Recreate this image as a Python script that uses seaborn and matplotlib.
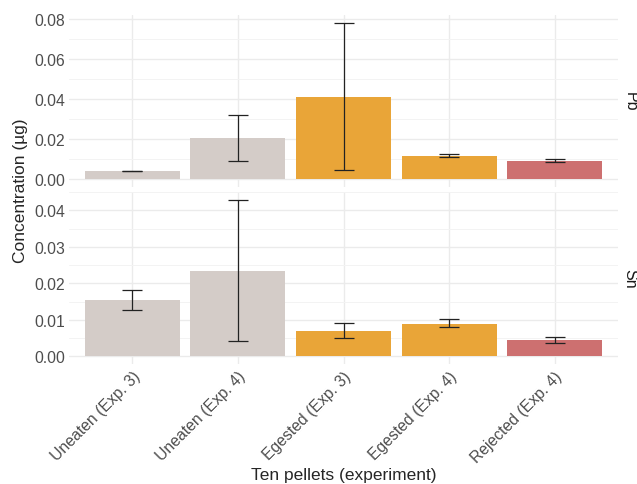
import numpy as np
import pandas as pd
import matplotlib
matplotlib.use("Agg")
import matplotlib.pyplot as plt
from matplotlib.ticker import MultipleLocator
import seaborn as sns

categories = ["Uneaten (Exp. 3)", "Uneaten (Exp. 4)", "Egested (Exp. 3)",
              "Egested (Exp. 4)", "Rejected (Exp. 4)"]
bar_colors = ["#D4CCC8", "#D4CCC8", "#E9A538", "#E9A538", "#CD7070"]

pb_mean = [0.0040, 0.0205, 0.0410, 0.0115, 0.0092]
pb_lo = [0.0038, 0.0090, 0.0043, 0.0108, 0.0085]
pb_hi = [0.0041, 0.0320, 0.0780, 0.0123, 0.0098]

sn_mean = [0.0153, 0.0235, 0.0070, 0.0089, 0.0044]
sn_lo = [0.0126, 0.0042, 0.0051, 0.0080, 0.0037]
sn_hi = [0.0182, 0.0429, 0.0090, 0.0101, 0.0052]

metals = ["Pb", "Sn"]
means = [pb_mean, sn_mean]
lows = [pb_lo, sn_lo]
highs = [pb_hi, sn_hi]
major_steps = [0.02, 0.01]

sns.set_style("whitegrid")
plt.rcParams['font.family'] = ['Liberation Sans', 'DejaVu Sans']

fig, axes = plt.subplots(2, 1, figsize=(6.37, 4.85), dpi=100, sharex=True)
fig.subplots_adjust(left=69/637, right=618/637, top=1-16/485, bottom=1-365/485, hspace=0.03)

for ax, metal, m, lo, hi, step in zip(axes, metals, means, lows, highs, major_steps):
    df = pd.DataFrame({"category": categories, "value": m})
    sns.barplot(data=df, x="category", y="value", hue="category",
                palette=bar_colors, width=0.9, legend=False, ax=ax,
                saturation=1, edgecolor="none", zorder=2)
    m_arr = np.array(m)
    yerr = [m_arr - np.array(lo), np.array(hi) - m_arr]
    ax.errorbar(np.arange(len(categories)), m_arr, yerr=yerr, fmt="none",
                ecolor="#222222", elinewidth=0.9, capsize=7, capthick=0.9, zorder=3)
    top = max(hi)
    pad = top * 0.05
    ax.set_ylim(-pad, top + pad)
    ax.set_xlim(-0.6, len(categories) - 0.4)
    ax.yaxis.set_major_locator(MultipleLocator(step))
    ax.yaxis.set_minor_locator(MultipleLocator(step / 2))
    ax.yaxis.set_major_formatter(matplotlib.ticker.FormatStrFormatter("%.2f"))
    ax.grid(True, which="major", color="#EBEBEB", linewidth=1.0, zorder=0)
    ax.grid(True, which="minor", axis="y", color="#F3F3F3", linewidth=0.7, zorder=0)
    ax.set_axisbelow(True)
    for s in ax.spines.values():
        s.set_visible(False)
    ax.tick_params(axis="both", length=0, labelsize=11.3, colors="#4D4D4D", pad=3)
    ax.set_ylabel("")
    ax.set_xlabel("")
    ax.text(1.0 + 12/549, 0.5, metal, transform=ax.transAxes, rotation=-90,
            ha="center", va="center", fontsize=11.5, color="#1A1A1A")

axes[1].set_xticks(range(len(categories)))
axes[1].set_xticklabels(categories, rotation=45, ha="right", rotation_mode="anchor")
axes[1].set_xlabel("Ten pellets (experiment)", fontsize=12.5, labelpad=2)
fig.text(21/637, (1 - 16/485 + 1 - 365/485) / 2, "Concentration (µg)", rotation=90,
         ha="center", va="center", fontsize=12.5)

fig.savefig("out.png", dpi=100)
